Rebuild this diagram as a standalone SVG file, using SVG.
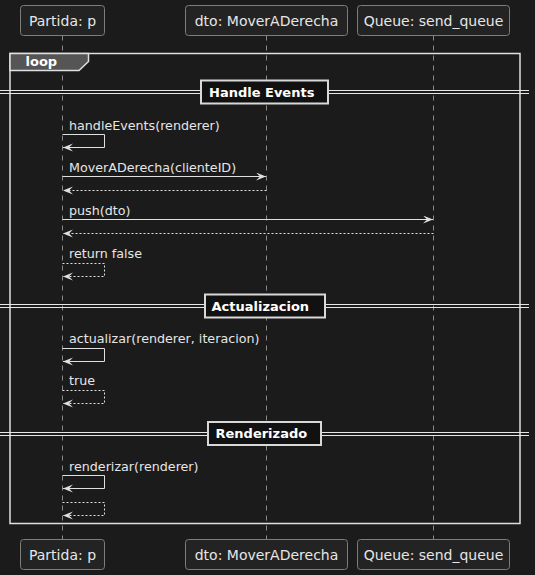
<svg xmlns="http://www.w3.org/2000/svg" width="535" height="575" viewBox="0 0 535 575">
<style>
  text { font-family: "DejaVu Sans", "Liberation Sans", sans-serif; fill: #e6e6e6; }
  .pbox { fill: #232323; stroke: #7d7d7d; stroke-width: 1; }
  .ptxt { font-size: 14px; text-anchor: middle; }
  .life { stroke: #8a8a8a; stroke-width: 1; stroke-dasharray: 5,5; fill: none; }
  .msg { font-size: 12.7px; }
  .call { stroke: #e0e0e0; stroke-width: 1; fill: none; marker-end: url(#ah); }
  .ret { stroke: #e0e0e0; stroke-width: 1; fill: none; stroke-dasharray: 2,2; marker-end: url(#ah); }
  .divline { stroke: #e6e6e6; stroke-width: 1; }
  .divbox { fill: #111111; stroke: #d8d8d8; stroke-width: 2; }
  .divtxt { font-size: 13px; font-weight: bold; fill: #ffffff; }
</style>
<defs>
  <marker id="ah" markerUnits="userSpaceOnUse" markerWidth="12" markerHeight="10" refX="10" refY="4" orient="auto" viewBox="0 0 12 10">
    <path d="M0,0 L10,4 L0,8 L4,4 Z" fill="#e0e0e0"/>
  </marker>
</defs>
<rect x="0" y="0" width="535" height="575" fill="#1b1b1b"/>

<g id="lifelines">
  <line class="life" x1="62.5" y1="35.5" x2="62.5" y2="539.5"/>
  <line class="life" x1="266.5" y1="35.5" x2="266.5" y2="539.5"/>
  <line class="life" x1="433.5" y1="35.5" x2="433.5" y2="539.5"/>
</g>

<g id="participant-partida">
  <rect class="pbox" x="20.5" y="5.5" width="84" height="30" rx="3"/>
  <text class="ptxt" x="62.5" y="26">Partida: p</text>
  <rect class="pbox" x="20.5" y="539.5" width="84" height="30" rx="3"/>
  <text class="ptxt" x="62.5" y="560">Partida: p</text>
</g>
<g id="participant-dto">
  <rect class="pbox" x="185.5" y="5.5" width="162" height="30" rx="3"/>
  <text class="ptxt" x="266.5" y="26">dto: MoverADerecha</text>
  <rect class="pbox" x="185.5" y="539.5" width="162" height="30" rx="3"/>
  <text class="ptxt" x="266.5" y="560">dto: MoverADerecha</text>
</g>
<g id="participant-queue">
  <rect class="pbox" x="357.5" y="5.5" width="152" height="30" rx="3"/>
  <text class="ptxt" x="433.5" y="26">Queue: send_queue</text>
  <rect class="pbox" x="357.5" y="539.5" width="152" height="30" rx="3"/>
  <text class="ptxt" x="433.5" y="560">Queue: send_queue</text>
</g>

<g id="loop-frame">
  <rect x="10" y="53.5" width="510" height="470" fill="none" stroke="#e0e0e0" stroke-width="1.5"/>
  <polygon points="10,53.5 88.5,53.5 88.5,61.5 79,70.5 10,70.5" fill="#555555" stroke="#e0e0e0" stroke-width="1.5"/>
  <text x="25.5" y="66" style="font-size:13px;font-weight:bold;fill:#ffffff">loop</text>
</g>

<g id="divider-handle-events">
  <line class="divline" x1="0" y1="90.5" x2="529" y2="90.5"/>
  <line class="divline" x1="0" y1="93.5" x2="529" y2="93.5"/>
  <rect class="divbox" x="201" y="80.5" width="127" height="23"/>
  <text class="divtxt" x="209" y="96.5">Handle Events</text>
</g>
<g id="divider-actualizacion">
  <line class="divline" x1="0" y1="304.5" x2="529" y2="304.5"/>
  <line class="divline" x1="0" y1="307.5" x2="529" y2="307.5"/>
  <rect class="divbox" x="205" y="294.5" width="120" height="23"/>
  <text class="divtxt" x="211.5" y="310.5">Actualizacion</text>
</g>
<g id="divider-renderizado">
  <line class="divline" x1="0" y1="432.5" x2="529" y2="432.5"/>
  <line class="divline" x1="0" y1="435.5" x2="529" y2="435.5"/>
  <rect class="divbox" x="208" y="422" width="113" height="23"/>
  <text class="divtxt" x="215.5" y="438">Renderizado</text>
</g>

<g id="connectors">
  <path class="call" d="M62.5,134.5 H104.5 V147.5 H63"/>
  <path class="call" d="M62.5,176.5 H266"/>
  <path class="ret" d="M266.5,190.5 H63"/>
  <path class="call" d="M62.5,219.5 H433"/>
  <path class="ret" d="M433.5,233.5 H63"/>
  <path class="ret" d="M62.5,263.5 H104.5 V276.5 H63"/>
  <path class="call" d="M62.5,348.5 H104.5 V361.5 H63"/>
  <path class="ret" d="M62.5,390.5 H104.5 V403.5 H63"/>
  <path class="call" d="M62.5,475.5 H104.5 V488.5 H63"/>
  <path class="ret" d="M62.5,502.5 H104.5 V515.5 H63"/>
</g>

<g id="labels">
  <text class="msg" x="69" y="130">handleEvents(renderer)</text>
  <text class="msg" x="69" y="172">MoverADerecha(clienteID)</text>
  <text class="msg" x="69" y="215">push(dto)</text>
  <text class="msg" x="69" y="258">return false</text>
  <text class="msg" x="69" y="343">actualizar(renderer, iteracion)</text>
  <text class="msg" x="69" y="385">true</text>
  <text class="msg" x="69" y="470.5">renderizar(renderer)</text>
</g>
</svg>
